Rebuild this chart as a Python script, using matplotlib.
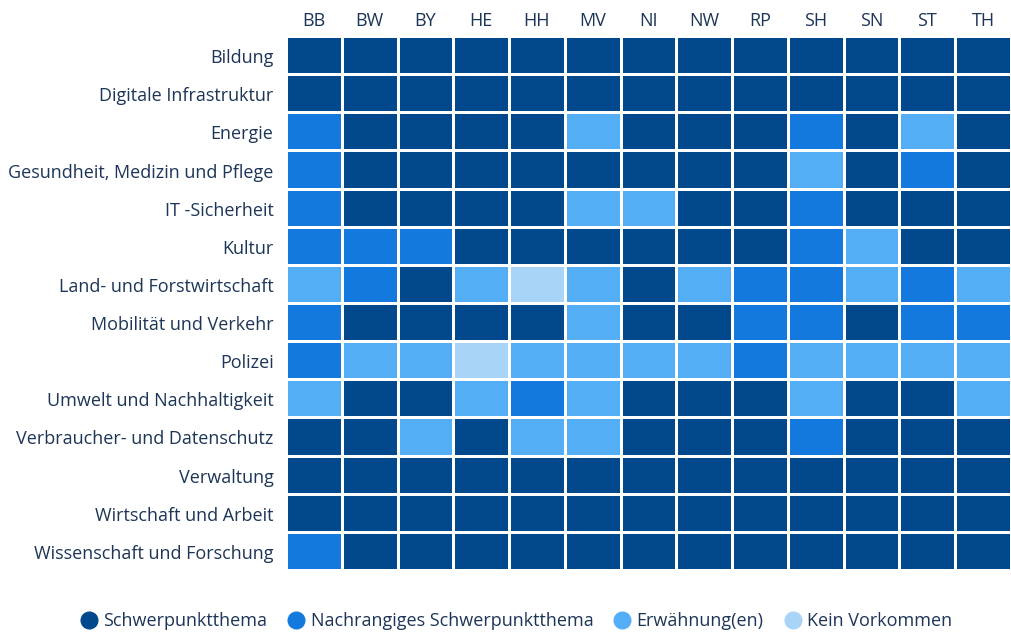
import matplotlib
matplotlib.use("Agg")
import matplotlib.pyplot as plt
from matplotlib.colors import ListedColormap, BoundaryNorm
from matplotlib.lines import Line2D
from matplotlib.transforms import ScaledTranslation
import numpy as np

states = ["BB", "BW", "BY", "HE", "HH", "MV", "NI", "NW", "RP", "SH", "SN", "ST", "TH"]
topics = ["Bildung", "Digitale Infrastruktur", "Energie", "Gesundheit, Medizin und Pflege",
          "IT -Sicherheit", "Kultur", "Land- und Forstwirtschaft", "Mobilität und Verkehr",
          "Polizei", "Umwelt und Nachhaltigkeit", "Verbraucher- und Datenschutz",
          "Verwaltung", "Wirtschaft und Arbeit", "Wissenschaft und Forschung"]
categories = ["Schwerpunktthema", "Nachrangiges Schwerpunktthema", "Erwähnung(en)", "Kein Vorkommen"]

# 0=Schwerpunktthema, 1=Nachrangiges, 2=Erwähnung, 3=Kein Vorkommen
bildung        = [0, 0, 0, 0, 0, 0, 0, 0, 0, 0, 0, 0, 0]
digitale       = [0, 0, 0, 0, 0, 0, 0, 0, 0, 0, 0, 0, 0]
energie        = [1, 0, 0, 0, 0, 2, 0, 0, 0, 1, 0, 2, 0]
gesundheit     = [1, 0, 0, 0, 0, 0, 0, 0, 0, 2, 0, 1, 0]
it_sicherheit  = [1, 0, 0, 0, 0, 2, 2, 0, 0, 1, 0, 0, 0]
kultur         = [1, 1, 1, 0, 0, 0, 0, 0, 0, 1, 2, 0, 0]
land_forst     = [2, 1, 0, 2, 3, 2, 0, 2, 1, 1, 2, 1, 2]
mobilitaet     = [1, 0, 0, 0, 0, 2, 0, 0, 1, 1, 0, 1, 1]
polizei        = [1, 2, 2, 3, 2, 2, 2, 2, 1, 2, 2, 2, 2]
umwelt         = [2, 0, 0, 2, 1, 2, 0, 0, 0, 2, 0, 0, 2]
verbraucher    = [0, 0, 2, 0, 2, 2, 0, 0, 0, 1, 0, 0, 0]
verwaltung     = [0, 0, 0, 0, 0, 0, 0, 0, 0, 0, 0, 0, 0]
wirtschaft     = [0, 0, 0, 0, 0, 0, 0, 0, 0, 0, 0, 0, 0]
wissenschaft   = [1, 0, 0, 0, 0, 0, 0, 0, 0, 0, 0, 0, 0]

rows = [bildung, digitale, energie, gesundheit, it_sicherheit, kultur, land_forst,
        mobilitaet, polizei, umwelt, verbraucher, verwaltung, wirtschaft, wissenschaft]
data = np.array(rows)

colors = ["#02488C", "#1479DE", "#54AEF5", "#A8D4F8"]
text_color = "#1D3557"

plt.rcParams['font.family'] = ['Open Sans', 'DejaVu Sans']

fig = plt.figure(figsize=(10.11, 6.32), dpi=100)
ax = fig.add_axes([286/1011, 1 - 570/632, (1011-286)/1011, (570-36)/632])

cmap = ListedColormap(colors)
norm = BoundaryNorm([-0.5, 0.5, 1.5, 2.5, 3.5], 4)
ax.pcolormesh(np.arange(len(states)+1), np.arange(len(topics)+1), data,
              cmap=cmap, norm=norm, edgecolors="white", linewidth=1.0)
ax.set_xlim(0, len(states))
ax.set_ylim(len(topics), 0)

ax.set_xticks(np.arange(len(states)) + 0.5)
ax.set_xticklabels(states, fontsize=13, color=text_color)
ax.xaxis.tick_top()
ax.set_yticks(np.arange(len(topics)) + 0.5)
ax.set_yticklabels(topics, fontsize=13, color=text_color, va="center")
ax.tick_params(axis="y", length=0, pad=9)
ax.tick_params(axis="x", length=0, pad=4)
for s in ax.spines.values():
    s.set_visible(False)
shift = ScaledTranslation(0, -3/100, fig.dpi_scale_trans)
for lab in ax.get_yticklabels():
    lab.set_transform(lab.get_transform() + shift)

handles = [Line2D([0], [0], marker="o", linestyle="", markersize=12,
                  markerfacecolor=c, markeredgecolor=c, label=l)
           for c, l in zip(colors, categories)]
fig.legend(handles=handles, loc="center", bbox_to_anchor=(516/1011, 1 - 621/632),
           ncol=4, frameon=False, fontsize=13, labelcolor=text_color,
           handletextpad=0.3, columnspacing=1.1, handlelength=1.0)

fig.savefig("out.png", dpi=100)
